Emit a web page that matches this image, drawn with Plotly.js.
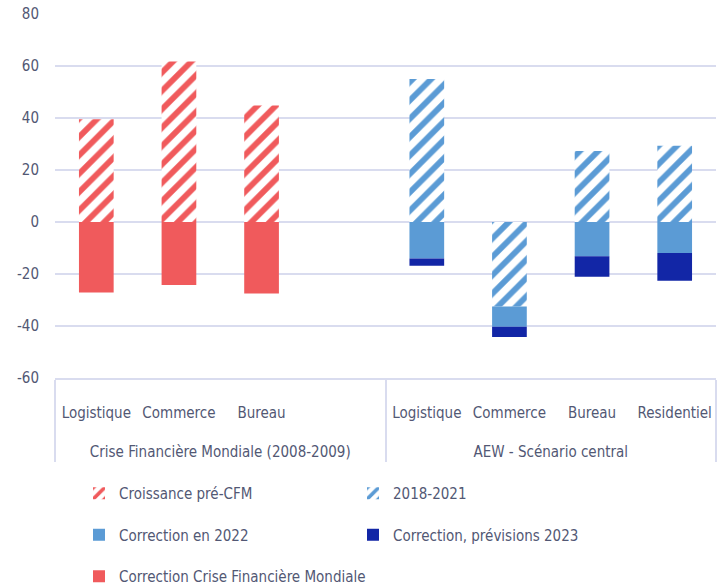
<!DOCTYPE html>
<html>
<head>
<meta charset="utf-8">
<script src="https://cdn.plot.ly/plotly-3.0.1.min.js"></script>
<style>
  html, body { margin: 0; padding: 0; background: #ffffff; }
  #chart { width: 719px; height: 585px; }
</style>
</head>
<body>
<div id="chart"></div>
<script>
// Two-level category axis: period group / property sector (blank slot closes the first group)
const groups = [
  "Crise Financière Mondiale (2008-2009)", "Crise Financière Mondiale (2008-2009)",
  "Crise Financière Mondiale (2008-2009)", "Crise Financière Mondiale (2008-2009)",
  "AEW - Scénario central", "AEW - Scénario central",
  "AEW - Scénario central", "AEW - Scénario central"
];
const sectors = ["Logistique", "Commerce", "Bureau", " ", "Logistique", "Commerce", "Bureau", "Residentiel"];

// Value change (%) per series
const croissancePreCFM = [39.5, 61.7, 44.8, null, null, null, null, null];
const periode2018_2021 = [null, null, null, null, 55, -32.5, 27.3, 29.3];
const correction2022 = [null, null, null, null, -14, -7.8, -13.2, -11.9];
const correction2023 = [null, null, null, null, -2.8, -3.9, -7.9, -10.7];
const correctionCFM = [-27.1, -24.2, -27.5, null, null, null, null, null];

const yTicks = [-60, -40, -20, 0, 20, 40, 60, 80];
const yTickLabels = ["-60", "-40", "-20", "0", "20", "40", "60", "80"];

const RED = "#F05A5C";
const LIGHT_BLUE = "#5B9BD5";
const DARK_BLUE = "#1226A6";
const TEXT = "#525874";
const GRID = "#D9DCEF";
const FONT = "'Liberation Sans Narrow', 'DejaVu Sans Condensed', 'Roboto', sans-serif";

// Leading line breaks open up the space between the axis line and each label row
const xCats = [groups.map(g => "<br><br>" + g), sectors.map(s => "<br>" + s)];

function hatched(color) {
  return { color: color, line: { width: 0 },
           pattern: { shape: "/", fgcolor: color, bgcolor: "#ffffff", size: 13, solidity: 0.45, fillmode: "replace" } };
}

const traces = [
  { type: "bar", name: "Croissance pré-CFM", x: xCats, y: croissancePreCFM, marker: hatched(RED), legend: "legend", legendgroup: "a" },
  { type: "bar", name: "2018-2021", x: xCats, y: periode2018_2021, marker: hatched(LIGHT_BLUE), legend: "legend2", legendgroup: "b" },
  { type: "bar", name: "Correction en 2022", x: xCats, y: correction2022, marker: { color: LIGHT_BLUE, line: { width: 0 } }, legend: "legend", legendgroup: "c" },
  { type: "bar", name: "Correction, prévisions 2023", x: xCats, y: correction2023, marker: { color: DARK_BLUE, line: { width: 0 } }, legend: "legend2", legendgroup: "d" },
  { type: "bar", name: "Correction Crise Financière Mondiale", x: xCats, y: correctionCFM, marker: { color: RED, line: { width: 0 } }, legend: "legend", legendgroup: "e" }
];

const legendStyle = {
  orientation: "v",
  xanchor: "left",
  y: -0.272, yanchor: "top",
  traceorder: "grouped",
  tracegroupgap: 19,
  itemwidth: 30,
  bgcolor: "rgba(0,0,0,0)",
  font: { family: FONT, size: 15, color: TEXT }
};

const layout = {
  width: 719, height: 585,
  margin: { l: 55, r: 3, t: 14, b: 207, autoexpand: false },
  paper_bgcolor: "#ffffff", plot_bgcolor: "#ffffff",
  font: { family: FONT, size: 15, color: TEXT },
  barmode: "relative",
  bargap: 0.58,
  showlegend: true,
  hovermode: false,
  xaxis: {
    type: "multicategory",
    showline: true, linecolor: GRID, linewidth: 2,
    showdividers: true, dividercolor: GRID, dividerwidth: 2,
    showgrid: false, ticks: "",
    tickfont: { family: FONT, size: 15, color: TEXT }
  },
  yaxis: {
    range: [-60, 80],
    tickvals: yTicks,
    ticktext: yTickLabels,
    showgrid: true, gridcolor: GRID, gridwidth: 2,
    zeroline: false, showline: false, ticks: "",
    ticklabelstandoff: 15,
    tickfont: { family: FONT, size: 15, color: TEXT }
  },
  legend: Object.assign({ x: 0.0363 }, legendStyle),
  legend2: Object.assign({ x: 0.4508 }, legendStyle)
};

Plotly.newPlot("chart", traces, layout, { displayModeBar: false, staticPlot: true });
</script>
</body>
</html>
